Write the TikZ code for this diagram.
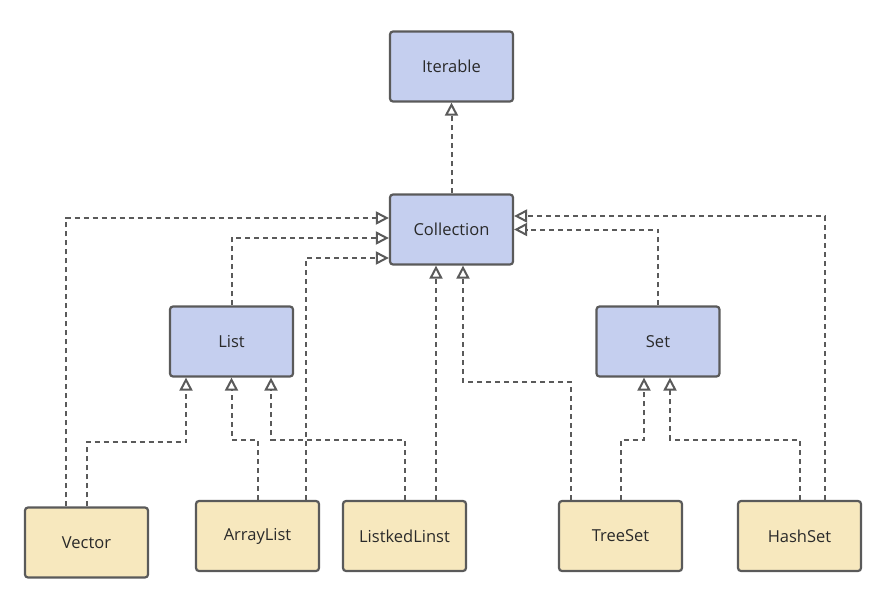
\documentclass[tikz,border=0pt]{standalone}
\usepackage{fontspec}
\setmainfont{Open Sans}
\usepackage{tikz}
\usetikzlibrary{arrows.meta, positioning, calc}

\definecolor{ifacefill}{HTML}{C5CFEF}
\definecolor{clsfill}{HTML}{F7E8BE}
\definecolor{edge}{HTML}{5A5A5A}
\definecolor{txt}{HTML}{2A2A2A}

\begin{document}
\begin{tikzpicture}[x=1pt, y=-1pt,
    box/.style={draw=edge, line width=2.2pt, rounded corners=3pt, minimum width=123pt, minimum height=70pt,
                text=txt, font=\fontsize{16.5}{19}\selectfont},
    iface/.style={box, fill=ifacefill},
    cls/.style={box, fill=clsfill},
    dep/.style={draw=edge, line width=2pt, dash pattern=on 5pt off 4pt,
                -{Triangle[open, length=13pt, width=13pt, line width=2pt]}}]
  \useasboundingbox (0,0) rectangle (883,597);

  % interfaces
  \node[iface] (iterable) at (451.5,66.5) {Iterable};
  \node[iface] (collection) at (451.5,229.5) {Collection};
  \node[iface] (list) at (231.5,341.5) {List};
  \node[iface] (set) at (658,341.5) {Set};

  % classes
  \node[cls] (vector) at (86.5,542.5) {Vector};
  \foreach \n/\x/\l in {arraylist/257.5/ArrayList, linkedlist/404.5/ListkedLinst,
                        treeset/620.5/TreeSet, hashset/799.5/HashSet} {
    \node[cls] (\n) at (\x,536) {\l};
  }

  % to Iterable / Collection
  \draw[dep] (collection.north) -- (iterable.south);
  \draw[dep] ([xshift=-20.5pt]vector.north) |- ([yshift=11.5pt]collection.west);
  \draw[dep] (list.north) |- ([yshift=-8.5pt]collection.west);
  \draw[dep] ([xshift=48.5pt]arraylist.north) |- ([yshift=-28.5pt]collection.west);
  \draw[dep] ([xshift=31.5pt]linkedlist.north) -- ([xshift=-15.5pt]collection.south);
  \draw[dep] ([xshift=-49.5pt]treeset.north) -- ++(0,-118) -| ([xshift=11.5pt]collection.south);
  \draw[dep] (set.north) |- (collection.east);
  \draw[dep] ([xshift=25.5pt]hashset.north) |- ([yshift=13.5pt]collection.east);

  % to List / Set
  \draw[dep] (vector.north) -- ++(0,-64) -| ([xshift=-45.5pt]list.south);
  \draw[dep] (arraylist.north) -- ++(0,-60) -| (list.south);
  \draw[dep] (linkedlist.north) -- ++(0,-60) -| ([xshift=39.5pt]list.south);
  \draw[dep] (treeset.north) -- ++(0,-60) -| ([xshift=-14pt]set.south);
  \draw[dep] (hashset.north) -- ++(0,-60) -| ([xshift=12pt]set.south);
\end{tikzpicture}
\end{document}
